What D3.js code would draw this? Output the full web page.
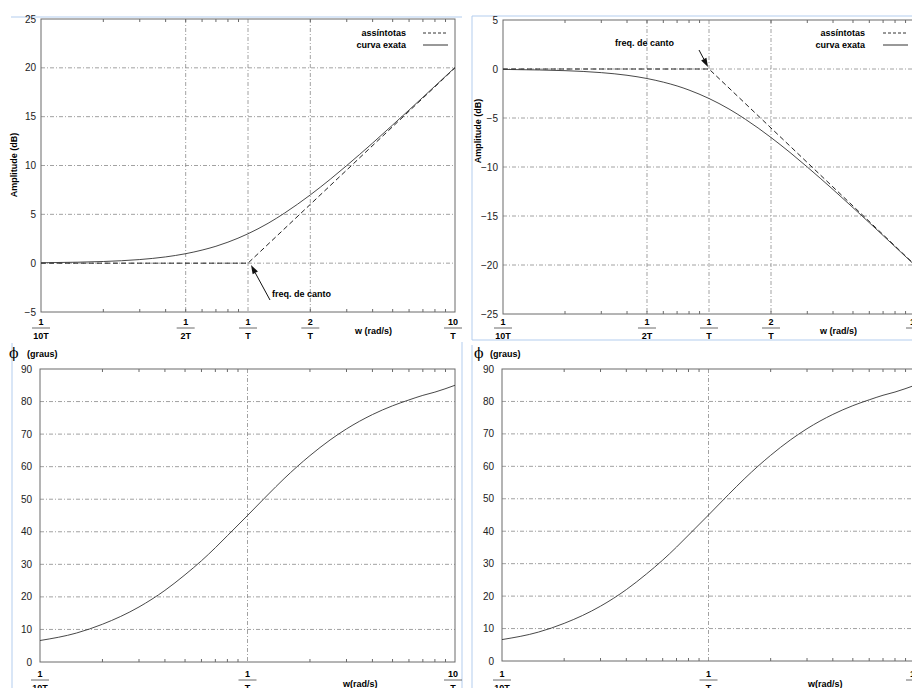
<!DOCTYPE html>
<html>
<head>
<meta charset="utf-8">
<script src="https://cdnjs.cloudflare.com/ajax/libs/d3/7.8.5/d3.min.js"></script>
<style>
  body { margin: 0; background: #fff; }
  svg { display: block; font-family: "Liberation Sans", Arial, sans-serif; }
  .lbl { font-weight: bold; font-size: 9px; }
  .ytick { font-size: 10px; fill: #222; }
</style>
</head>
<body>
<svg id="chart" width="912" height="688"></svg>
<script>
// frequencies as multiples of 1/T
const wT = [0.1, 0.15, 0.2, 0.3, 0.4, 0.5, 0.6, 0.7, 0.8, 1, 1.25, 1.5, 2, 2.5, 3, 4, 5, 6, 7, 8, 10];
// exact magnitude of the zero (dB)
const ampZero = [0.04, 0.1, 0.17, 0.37, 0.64, 0.97, 1.34, 1.73, 2.15, 3.01, 4.08, 5.12, 6.99, 8.6, 10.0, 12.3, 14.15, 15.68, 16.99, 18.13, 20.04];
// exact magnitude of the pole (dB)
const ampPole = [-0.04, -0.1, -0.17, -0.37, -0.64, -0.97, -1.34, -1.73, -2.15, -3.01, -4.08, -5.12, -6.99, -8.6, -10.0, -12.3, -14.15, -15.68, -16.99, -18.13, -20.04];
// phase (graus)
const phase = [6.6, 8.9, 11.6, 16.9, 22.0, 26.8, 31.1, 35.1, 38.8, 45.0, 51.3, 56.3, 63.4, 68.2, 71.6, 76.0, 78.7, 80.5, 81.9, 82.9, 85.0];
// asymptotes
const asymW = [0.1, 1, 10];
const asymZero = [0, 0, 20];
const asymPole = [0, 0, -20];
// tick labels
const tickW = [0.1, 0.5, 1, 2, 10];
const tickNum = ['1', '1', '1', '2', '10'];
const tickDen = ['10T', '2T', 'T', 'T', 'T'];
const ampTicksZero = [-5, 0, 5, 10, 15, 20, 25];
const ampTicksPole = [-25, -20, -15, -10, -5, 0, 5];
const phaseTicks = [0, 10, 20, 30, 40, 50, 60, 70, 80, 90];

const svg = d3.select('#chart');
const minor = [];
[0.1, 1].forEach(d => { for (let m = 2; m <= 9; m++) minor.push(d * m); });

// faint frame lines of the pasted figures
const blue = '#b3cdee';
[[11, 17, 462, 17], [472, 16, 912, 16], [472, 16, 472, 340], [472, 340, 912, 340],
 [12, 343, 12, 688], [462, 342, 462, 688], [472, 345, 472, 688]].forEach(l => {
  svg.append('line').attr('x1', l[0]).attr('y1', l[1]).attr('x2', l[2]).attr('y2', l[3])
    .attr('stroke', blue).attr('stroke-width', 1);
});

function panel(o) {
  const g = svg.append('g');
  const x = d3.scaleLog().domain([0.1, 10]).range([o.left, o.right]);
  const y = d3.scaleLinear().domain(o.yDomain).range([o.bottom, o.top]);

  // grid
  o.yTicks.filter(v => v > o.yDomain[0] && v < o.yDomain[1]).forEach(v => {
    g.append('line').attr('x1', o.left).attr('x2', Math.min(o.right, 912))
      .attr('y1', y(v)).attr('y2', y(v))
      .attr('stroke', '#8a8a8a').attr('stroke-width', 0.8).attr('stroke-dasharray', '4,2,1,2');
  });
  o.vGrid.forEach(v => {
    g.append('line').attr('x1', x(v)).attr('x2', x(v)).attr('y1', o.top).attr('y2', o.bottom)
      .attr('stroke', '#8a8a8a').attr('stroke-width', 0.8).attr('stroke-dasharray', '4,2,1,2');
  });

  // frame
  g.append('rect').attr('x', o.left).attr('y', o.top)
    .attr('width', o.right - o.left).attr('height', o.bottom - o.top)
    .attr('fill', 'none').attr('stroke', '#6a6a6a').attr('stroke-width', 1);

  // minor log ticks top and bottom
  minor.forEach(v => {
    g.append('line').attr('x1', x(v)).attr('x2', x(v)).attr('y1', o.bottom).attr('y2', o.bottom - 3)
      .attr('stroke', '#6a6a6a');
    g.append('line').attr('x1', x(v)).attr('x2', x(v)).attr('y1', o.top).attr('y2', o.top + 3)
      .attr('stroke', '#6a6a6a');
  });

  // y tick labels
  o.yTicks.forEach(v => {
    g.append('text').attr('class', 'ytick').attr('x', o.left - o.yLabelGap).attr('y', y(v) + 3.5)
      .attr('text-anchor', 'end').text(v < 0 ? '\u2212' + Math.abs(v) : v);
  });

  // fraction tick labels on the x axis
  tickW.forEach((v, i) => {
    if (o.xLabels.indexOf(v) < 0) return;
    let cx = x(v);
    if (v === 10 && o.right < 912) cx -= 2;
    const t = g.append('g').attr('transform', `translate(${cx},${o.fracY})`);
    t.append('text').attr('class', 'lbl').attr('text-anchor', 'middle').attr('y', 0).text(tickNum[i]);
    t.append('line').attr('x1', -9).attr('x2', 9).attr('y1', 3).attr('y2', 3)
      .attr('stroke', '#444').attr('stroke-width', 0.8);
    t.append('text').attr('class', 'lbl').attr('text-anchor', 'middle').attr('y', 14).text(tickDen[i]);
  });
  g.append('text').attr('class', 'lbl').attr('x', o.wX).attr('y', o.wY).text(o.wText);

  const line = d3.line().x(d => x(d[0])).y(d => y(d[1]));

  if (o.asym) {
    g.append('path').datum(asymW.map((w, i) => [w, o.asym[i]]))
      .attr('d', line).attr('fill', 'none').attr('stroke', '#222')
      .attr('stroke-width', 1).attr('stroke-dasharray', '5,3');
  }
  g.append('path').datum(wT.map((w, i) => [w, o.values[i]]))
    .attr('d', line.curve(d3.curveMonotoneX)).attr('fill', 'none')
    .attr('stroke', '#333').attr('stroke-width', 0.9);

  return { g, x, y };
}

function legend(xr, lx) {
  svg.append('text').attr('class', 'lbl').attr('font-size', '10px').attr('x', xr).attr('y', 36)
    .attr('text-anchor', 'end').text('assíntotas');
  svg.append('text').attr('class', 'lbl').attr('font-size', '10px').attr('x', xr).attr('y', 48)
    .attr('text-anchor', 'end').text('curva exata');
  svg.append('line').attr('x1', lx).attr('x2', lx + 25).attr('y1', 33).attr('y2', 33)
    .attr('stroke', '#333').attr('stroke-dasharray', '3,2');
  svg.append('line').attr('x1', lx).attr('x2', lx + 25).attr('y1', 45).attr('y2', 45)
    .attr('stroke', '#333');
}

function arrow(x1, y1, x2, y2) {
  const a = Math.atan2(y2 - y1, x2 - x1);
  const len = 9, w = 3;
  const bx = x2 - len * Math.cos(a), by = y2 - len * Math.sin(a);
  svg.append('line').attr('x1', x1).attr('y1', y1).attr('x2', bx).attr('y2', by)
    .attr('stroke', '#111').attr('stroke-width', 1);
  svg.append('path').attr('d', d3.line()([[x2, y2],
    [bx + w * Math.sin(a), by - w * Math.cos(a)],
    [bx - w * Math.sin(a), by + w * Math.cos(a)]]) + 'Z').attr('fill', '#111');
}

// top left: magnitude of zero
panel({ left: 41, right: 455, top: 19, bottom: 312, yDomain: [-5, 25], yTicks: ampTicksZero,
  vGrid: [0.5, 1, 2], yLabelGap: 5, xLabels: tickW, fracY: 325,
  wX: 355, wY: 334, wText: 'w (rad/s)', values: ampZero, asym: asymZero });
svg.append('text').attr('class', 'lbl').attr('transform', 'translate(17,165) rotate(-90)')
  .attr('text-anchor', 'middle').text('Amplitude (dB)');
legend(406, 423);
svg.append('text').attr('class', 'lbl').attr('font-size', '10px').attr('x', 272).attr('y', 297).text('freq. de canto');
arrow(270, 300, 251, 265);

// top right: magnitude of pole
panel({ left: 503, right: 915, top: 20, bottom: 314, yDomain: [-25, 5], yTicks: ampTicksPole,
  vGrid: [0.5, 1, 2], yLabelGap: 5, xLabels: tickW, fracY: 325,
  wX: 820, wY: 334, wText: 'w (rad/s)', values: ampPole, asym: asymPole });
svg.append('text').attr('class', 'lbl').attr('transform', 'translate(481,131) rotate(-90)')
  .attr('text-anchor', 'middle').text('Amplitude (dB)');
legend(865, 883);
svg.append('text').attr('class', 'lbl').attr('font-size', '10px').attr('x', 615).attr('y', 46).text('freq. de canto');
arrow(699, 50, 708, 67);

// bottom left: phase
panel({ left: 40, right: 455, top: 369, bottom: 662, yDomain: [0, 90], yTicks: phaseTicks,
  vGrid: [1], yLabelGap: 8, xLabels: [0.1, 1, 10], fracY: 677,
  wX: 343, wY: 687, wText: 'w(rad/s)', values: phase });
svg.append('text').attr('x', 9).attr('y', 358).attr('font-family', 'DejaVu Serif').attr('font-size', '14px').text('\u03d5');
svg.append('text').attr('class', 'lbl').attr('x', 27).attr('y', 357).text('(graus)');

// bottom right: phase
panel({ left: 502, right: 915, top: 369, bottom: 661, yDomain: [0, 90], yTicks: phaseTicks,
  vGrid: [1], yLabelGap: 8, xLabels: [0.1, 1, 10], fracY: 677,
  wX: 808, wY: 687, wText: 'w(rad/s)', values: phase });
svg.append('text').attr('x', 474).attr('y', 358).attr('font-family', 'DejaVu Serif').attr('font-size', '14px').text('\u03d5');
svg.append('text').attr('class', 'lbl').attr('x', 490).attr('y', 357).text('(graus)');
</script>
</body>
</html>
